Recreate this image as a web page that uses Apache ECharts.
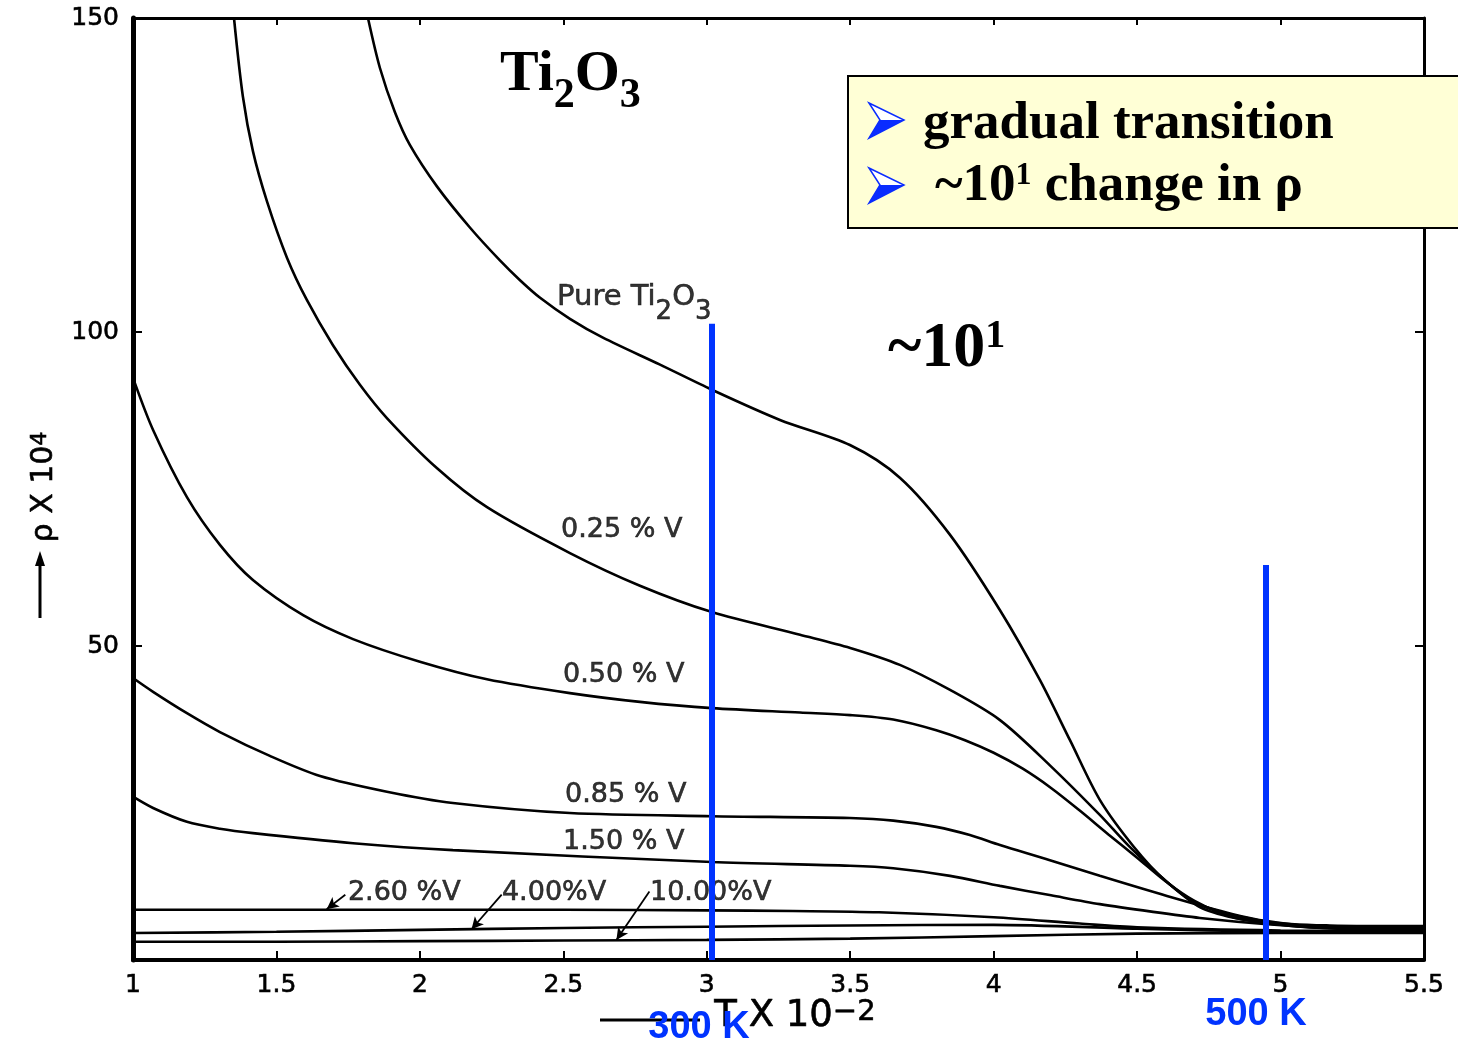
<!DOCTYPE html>
<html>
<head>
<meta charset="utf-8">
<script src="https://cdn.jsdelivr.net/npm/echarts@6/dist/echarts.min.js"></script>
<style>
  html, body { margin: 0; padding: 0; background: #ffffff; }
  #chart { width: 1458px; height: 1046px; }
</style>
</head>
<body>
<div id="chart"></div>
<script>
// Resistivity of Ti2O3 and V-doped Ti2O3 versus temperature (T in units of 100 K, rho x 10^4)
const pureTi2O3 = [[1.819,150],[1.861,142],[1.913,135],[1.965,129.8],[2.06,123.15],[2.175,116.6],[2.279,111.4],[2.349,108.25],[2.419,105.45],[2.523,102.1],[2.638,99.1],[2.837,94.8],[3.018,90.8],[3.255,86],[3.499,82],[3.673,76.8],[3.848,67.7],[4.022,55.7],[4.161,44.6],[4.266,35],[4.37,25.5],[4.489,18],[4.597,12.7],[4.719,8.8],[4.953,6.1],[5.172,5.5],[5.5,5.4]];
const v025 = [[1.352,150],[1.383,137.5],[1.418,128.8],[1.467,120.8],[1.537,111.8],[1.606,105.1],[1.697,97.9],[1.791,91.6],[1.885,86.3],[2.06,78.3],[2.234,72.1],[2.523,64.8],[2.767,59.6],[3.018,55.4],[3.325,51.8],[3.5,49.7],[3.673,47],[3.848,43],[4.022,38.2],[4.196,31],[4.37,23.1],[4.47,18.2],[4.6,12.6],[4.72,8.4],[4.85,6.6],[4.953,5.9],[5.1,5.3],[5.3,5.2],[5.5,5.2]];
const v050 = [[1.0,92.7],[1.07,84.4],[1.188,73.7],[1.303,66.1],[1.418,60.5],[1.593,54.9],[1.767,51.1],[2.0,47.5],[2.234,44.7],[2.523,42.5],[2.767,41.1],[3.018,40.1],[3.325,39.4],[3.5,39],[3.65,38.3],[3.8,36.6],[3.9,35],[4.0,33],[4.1,30.5],[4.2,27.4],[4.3,23.8],[4.4,20],[4.5,16.3],[4.6,12.5],[4.7,9.4],[4.8,7.3],[4.9,6.2],[5.0,5.6],[5.1,5.2],[5.3,5.0],[5.5,5.0]];
const v085 = [[1.0,44.9],[1.07,42.7],[1.188,39.3],[1.303,36.3],[1.477,32.5],[1.652,29.3],[1.885,26.8],[2.115,25],[2.523,23.4],[3.018,22.9],[3.499,22.6],[3.65,22.2],[3.8,21.2],[3.917,19.9],[4.022,18.3],[4.196,15.9],[4.37,13.4],[4.604,10.2],[4.834,7.3],[4.953,6.2],[5.172,5.1],[5.5,4.9]];
const v150 = [[1.0,26],[1.07,24.2],[1.188,22],[1.303,20.9],[1.418,20.2],[1.767,18.6],[2.115,17.5],[3.018,15.6],[3.499,15],[3.65,14.6],[3.848,13.4],[4.022,11.8],[4.2,10.3],[4.37,8.9],[4.55,7.7],[4.719,6.7],[4.953,5.7],[5.2,5.0],[5.5,4.8]];
const v260 = [[1.0,8.0],[2.0,8.0],[2.5,8.0],[3.0,7.9],[3.3,7.8],[3.6,7.6],[4.0,6.8],[4.3,5.8],[4.5,5.2],[5.0,4.7],[5.5,4.6]];
const v400 = [[1.0,4.3],[1.5,4.5],[2.0,4.8],[2.5,5.1],[3.0,5.3],[3.5,5.5],[4.0,5.6],[4.5,5.0],[5.0,4.5],[5.5,4.4]];
const v1000 = [[1.0,2.9],[1.5,2.9],[2.0,3.0],[2.5,3.1],[3.0,3.2],[3.5,3.4],[4.0,3.8],[4.5,4.2],[5.0,4.3],[5.5,4.3]];

const curveData = [pureTi2O3, v025, v050, v085, v150, v260, v400, v1000];
const curveLabels = ['{p|Pure Ti}{s|2}{p|O}{s|3}', '{b|0.25 % V}', '{b|0.50 % V}', '{b|0.85 % V}', '{b|1.50 % V}', '{b|2.60 %V}', '{b|4.00%V}', '{b|10.00%V}'];
// top-left anchor of each curve label, in [T, rho]
const labelAnchors = [[2.478,107.8],[2.492,70.7],[2.499,47.5],[2.506,28.5],[2.499,20.9],[1.749,12.9],[2.286,12.9],[2.802,12.9]];
// leader arrows from the lower-concentration labels to their curves
const leaderArrows = [[[1.74,10.4],[1.675,8.1]],[[2.285,10.4],[2.18,4.9]],[[2.80,10.9],[2.685,3.2]]];

// marked temperatures (300 K and 500 K) and the height of each marker
const markerT = [3.018, 4.949];
const markerTop = [101.3, 62.9];
const markerText = ['300 K', '500 K'];

const xTicks = { min: 1, max: 5.5, interval: 0.5 };
const yTicks = { min: 0, max: 150, interval: 50 };

const chart = echarts.init(document.getElementById('chart'), null, { renderer: 'canvas' });

const tickFont = 'DejaVu Sans';
const inkStroke = { textBorderColor: '#000', textBorderWidth: 0.6 };
const labelRich = {
  b: Object.assign({ fontFamily: tickFont, fontSize: 27, color: '#000', lineHeight: 28, verticalAlign: 'top' }, inkStroke),
  p: Object.assign({ fontFamily: tickFont, fontSize: 29, color: '#000', lineHeight: 28, verticalAlign: 'top' }, inkStroke),
  s: Object.assign({ fontFamily: tickFont, fontSize: 26, color: '#000', lineHeight: 42, verticalAlign: 'bottom' }, inkStroke)
};

const series = curveData.map((d) => ({
  type: 'line',
  data: d,
  smooth: 0.3,
  showSymbol: false,
  silent: true,
  lineStyle: { color: '#000', width: 2.6 },
  z: 3
}));

series.push({
  type: 'scatter',
  data: labelAnchors,
  symbolSize: 0,
  silent: true,
  z: 4,
  label: {
    show: true,
    position: [0, 0],
    align: 'left',
    verticalAlign: 'top',
    color: '#000',
    formatter: (p) => curveLabels[p.dataIndex],
    rich: labelRich
  },
  markLine: {
    silent: true,
    symbol: ['none', 'arrow'],
    symbolSize: [9, 12],
    label: { show: false },
    lineStyle: { color: '#000', width: 1.8, type: 'solid' },
    data: leaderArrows.map((a) => [{ coord: a[0] }, { coord: a[1] }])
  }
});

series.push({
  type: 'line',
  data: [],
  silent: true,
  z: 6,
  markLine: {
    silent: true,
    symbol: ['none', 'none'],
    label: { show: false },
    lineStyle: { color: '#0033ff', width: 6, type: 'solid' },
    data: markerT.map((t, i) => [{ coord: [t, 0] }, { coord: [t, markerTop[i]] }])
  }
});

const serif = '"Liberation Serif", "Times New Roman", serif';
const tickLabel = Object.assign({ color: '#000', fontFamily: tickFont, fontSize: 25 }, inkStroke);

const option = {
  animation: false,
  backgroundColor: '#ffffff',
  grid: { left: 133, right: 34, top: 18, bottom: 86, containLabel: false },
  xAxis: [
    {
      type: 'value', min: xTicks.min, max: xTicks.max, interval: xTicks.interval, position: 'bottom',
      axisLine: { show: true, onZero: false, lineStyle: { color: '#000', width: 4 } },
      axisTick: { show: true, inside: true, length: 9, lineStyle: { color: '#000', width: 2 } },
      axisLabel: Object.assign({ margin: 13 }, tickLabel),
      splitLine: { show: false }
    },
    {
      type: 'value', min: xTicks.min, max: xTicks.max, interval: xTicks.interval, position: 'top',
      axisLine: { show: true, onZero: false, lineStyle: { color: '#000', width: 3 } },
      axisTick: { show: true, inside: true, length: 7, lineStyle: { color: '#000', width: 2 } },
      axisLabel: { show: false },
      splitLine: { show: false }
    }
  ],
  yAxis: [
    {
      type: 'value', min: yTicks.min, max: yTicks.max, interval: yTicks.interval, position: 'left',
      axisLine: { show: true, onZero: false, lineStyle: { color: '#000', width: 5 } },
      axisTick: { show: true, inside: true, length: 9, lineStyle: { color: '#000', width: 2 } },
      axisLabel: Object.assign({ margin: 14, formatter: (v) => (v === 0 ? '' : String(v)) }, tickLabel),
      splitLine: { show: false }
    },
    {
      type: 'value', min: yTicks.min, max: yTicks.max, interval: yTicks.interval, position: 'right',
      axisLine: { show: true, onZero: false, lineStyle: { color: '#000', width: 3 } },
      axisTick: { show: true, inside: true, length: 9, lineStyle: { color: '#000', width: 2 } },
      axisLabel: { show: false },
      splitLine: { show: false }
    }
  ],
  series: series,
  graphic: [
    // compound name
    {
      type: 'text', left: 500, top: 46, z: 10, silent: true,
      style: {
        text: '{b|Ti}{s|2}{b|O}{s|3}',
        rich: {
          b: { fontFamily: serif, fontWeight: 'bold', fontSize: 58, fill: '#000', lineHeight: 60, verticalAlign: 'top' },
          s: { fontFamily: serif, fontWeight: 'bold', fontSize: 42, fill: '#000', lineHeight: 71, verticalAlign: 'bottom' }
        }
      }
    },
    // order-of-magnitude note
    {
      type: 'text', left: 888, top: 317, z: 10, silent: true,
      style: {
        text: '{b|~10}{p|1}',
        rich: {
          b: { fontFamily: serif, fontWeight: 'bold', fontSize: 64, fill: '#000', lineHeight: 70, verticalAlign: 'top' },
          p: { fontFamily: serif, fontWeight: 'bold', fontSize: 40, fill: '#000', lineHeight: 34, verticalAlign: 'top' }
        }
      }
    },
    // summary box
    {
      type: 'rect', z: 20, silent: true,
      shape: { x: 848, y: 76, width: 640, height: 152 },
      style: { fill: '#ffffd6', stroke: '#000', lineWidth: 2 }
    },
    {
      type: 'polygon', z: 21, silent: true,
      shape: { points: [[869, 103], [904, 120], [869, 138], [880, 120]] },
      style: { fill: '#ffffff', stroke: '#0a2cff', lineWidth: 1.5 }
    },
    {
      type: 'polygon', z: 22, silent: true,
      shape: { points: [[880, 120], [904, 120], [869, 138]] },
      style: { fill: '#0a2cff' }
    },
    {
      type: 'polygon', z: 21, silent: true,
      shape: { points: [[869, 168], [904, 185], [869, 203], [880, 185]] },
      style: { fill: '#ffffff', stroke: '#0a2cff', lineWidth: 1.5 }
    },
    {
      type: 'polygon', z: 22, silent: true,
      shape: { points: [[880, 185], [904, 185], [869, 203]] },
      style: { fill: '#0a2cff' }
    },
    {
      type: 'text', x: 923, y: 124, z: 23, silent: true,
      style: {
        text: 'gradual transition', fill: '#000',
        font: 'bold 53px ' + serif, textAlign: 'left', textVerticalAlign: 'middle'
      }
    },
    {
      type: 'text', left: 935, top: 160, z: 23, silent: true,
      style: {
        text: '{b|~10}{p|1}{b| change in ρ}',
        rich: {
          b: { fontFamily: serif, fontWeight: 'bold', fontSize: 53, fill: '#000', lineHeight: 60, verticalAlign: 'top' },
          p: { fontFamily: serif, fontWeight: 'bold', fontSize: 32, fill: '#000', lineHeight: 38, verticalAlign: 'top' }
        }
      }
    },
    // y axis name with arrow
    {
      type: 'line', z: 10, silent: true,
      shape: { x1: 40, y1: 618, x2: 40, y2: 560 },
      style: { stroke: '#000', lineWidth: 3 }
    },
    {
      type: 'polygon', z: 10, silent: true,
      shape: { points: [[35, 566], [40, 551], [45, 566]] },
      style: { fill: '#000' }
    },
    {
      type: 'text', x: 46, y: 487, rotation: Math.PI / 2, z: 10, silent: true,
      style: {
        text: '{b|ρ X 10}{p|4}', textAlign: 'center', textVerticalAlign: 'middle',
        rich: {
          b: { fontFamily: tickFont, fontSize: 30, fill: '#000', lineHeight: 34, verticalAlign: 'top', stroke: '#000', lineWidth: 0.6 },
          p: { fontFamily: tickFont, fontSize: 22, fill: '#000', lineHeight: 16, verticalAlign: 'top', stroke: '#000', lineWidth: 0.6 }
        }
      }
    },
    // x axis name with arrow stroke
    {
      type: 'line', z: 10, silent: true,
      shape: { x1: 600, y1: 1020, x2: 700, y2: 1020 },
      style: { stroke: '#000', lineWidth: 3 }
    },
    {
      type: 'text', left: 714, top: 998, z: 10, silent: true,
      style: {
        text: '{b|T X 10}{p|−2}',
        rich: {
          b: { fontFamily: tickFont, fontSize: 37, fill: '#000', lineHeight: 44, verticalAlign: 'top', stroke: '#000', lineWidth: 0.6 },
          p: { fontFamily: tickFont, fontSize: 29, fill: '#000', lineHeight: 18, verticalAlign: 'top', stroke: '#000', lineWidth: 0.6 }
        }
      }
    },
    // temperature marker captions
    {
      type: 'text', x: 699, y: 1028, z: 12, silent: true,
      style: { text: markerText[0], fill: '#0033ff', font: 'bold 38px "Liberation Sans", Arial, sans-serif',
        textAlign: 'center', textVerticalAlign: 'middle' }
    },
    {
      type: 'text', x: 1256, y: 1015, z: 12, silent: true,
      style: { text: markerText[1], fill: '#0033ff', font: 'bold 38px "Liberation Sans", Arial, sans-serif',
        textAlign: 'center', textVerticalAlign: 'middle' }
    }
  ]
};

chart.setOption(option);
</script>
</body>
</html>
